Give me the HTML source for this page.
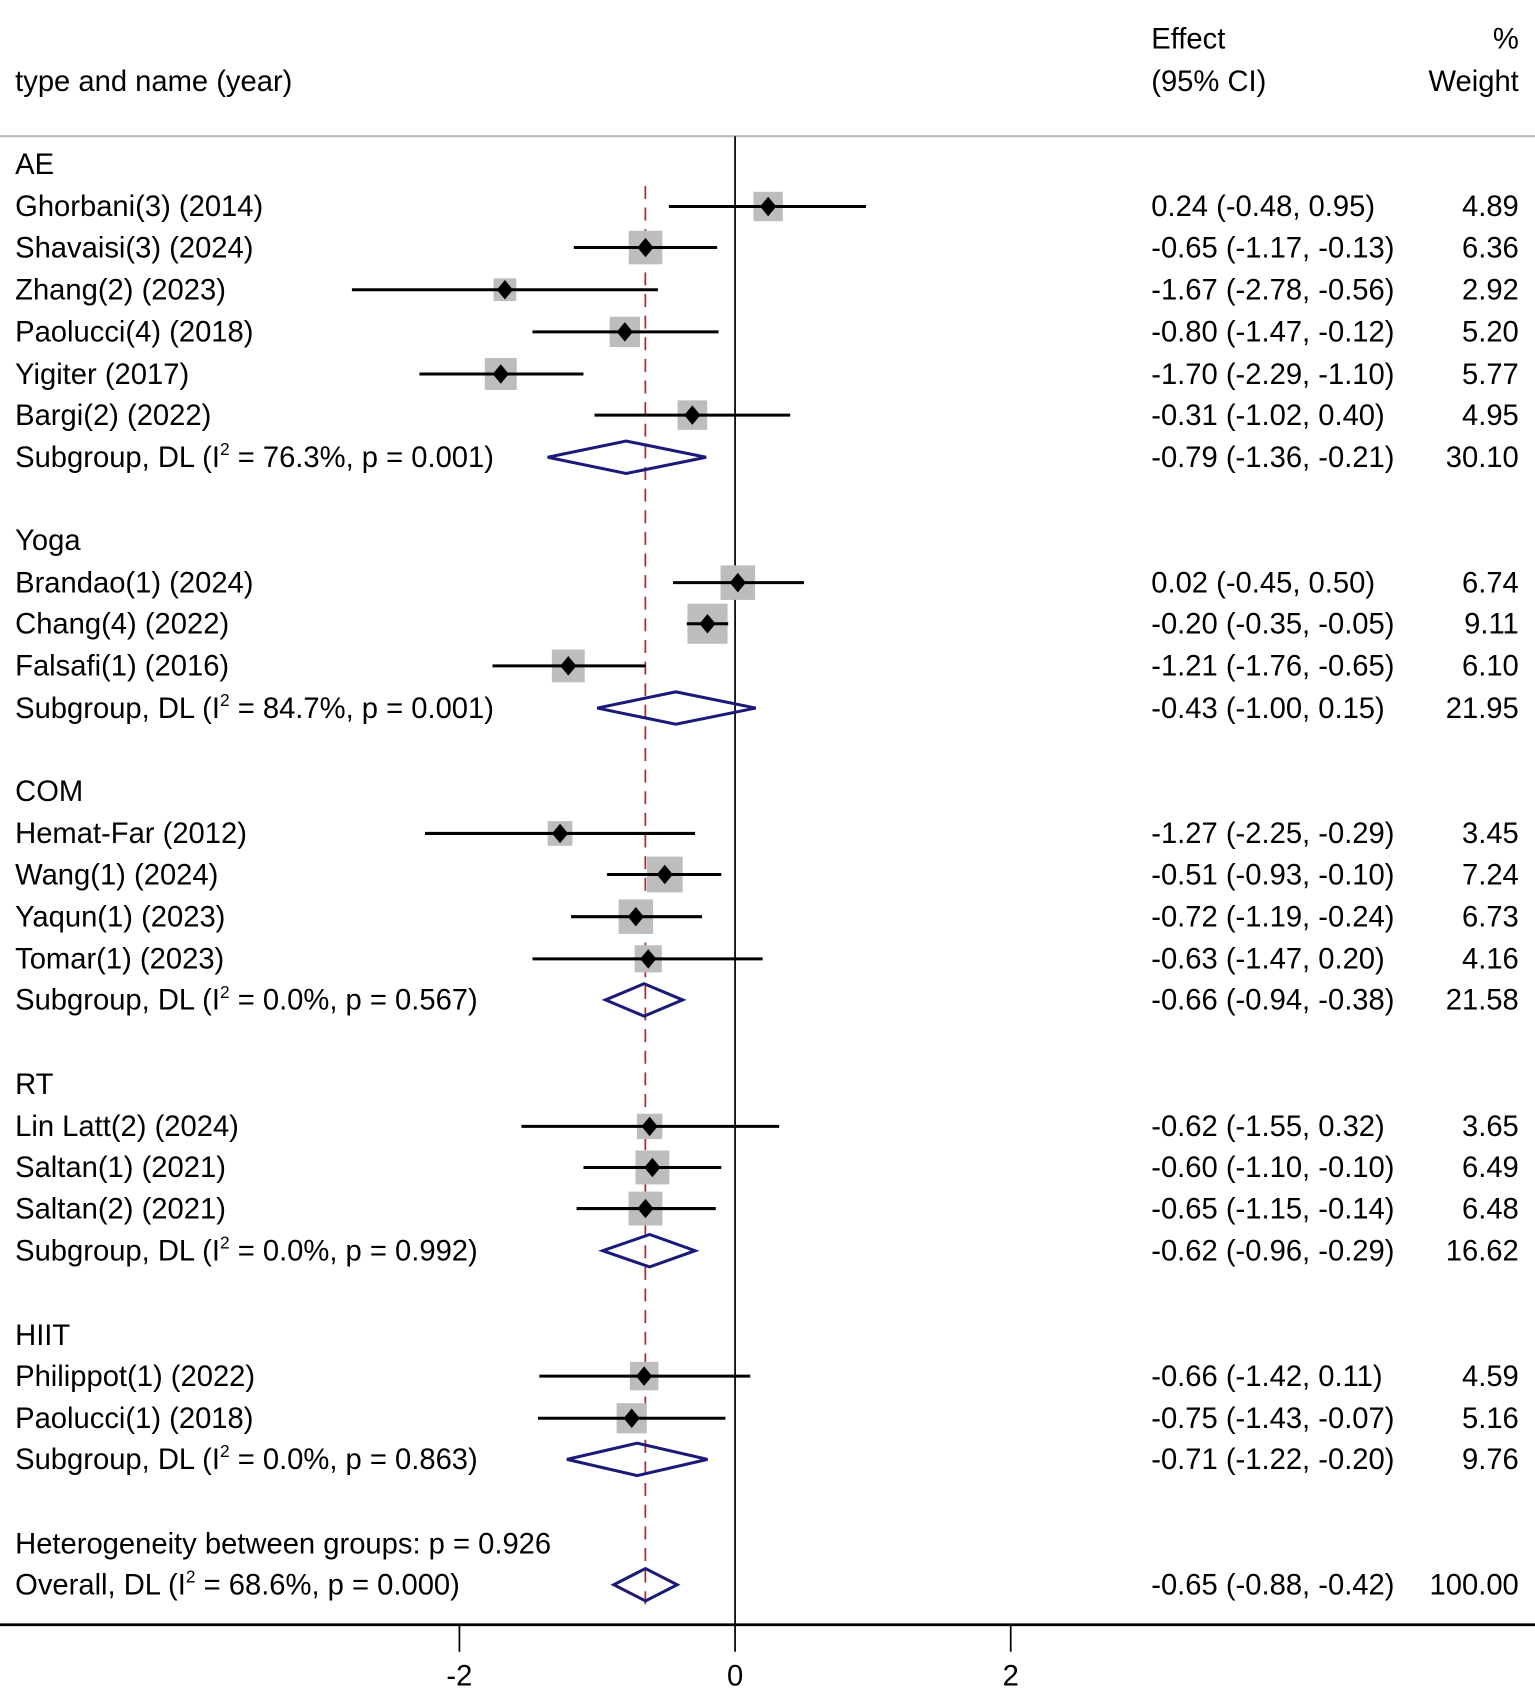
<!DOCTYPE html>
<html><head><meta charset="utf-8"><style>
html,body{margin:0;padding:0;background:#fff;}
svg{display:block;}
text{font-family:"Liberation Sans",Arial,sans-serif;font-size:27px;fill:#000;}
</style></head><body>
<svg id="s" width="1535" height="1695" viewBox="0 0 1420 1568" preserveAspectRatio="none" xmlns="http://www.w3.org/2000/svg">
<text x="1065" y="45">Effect</text>
<text x="1405" y="45" text-anchor="end">%</text>
<text x="14" y="84">type and name (year)</text>
<text x="1065" y="84">(95% CI)</text>
<text x="1405" y="84" text-anchor="end">Weight</text>
<line x1="0" y1="126" x2="1420" y2="126" stroke="#bbb" stroke-width="2"/>
<line x1="680" y1="126" x2="680" y2="1503" stroke="#000" stroke-width="1.6"/>
<line x1="597" y1="172" x2="597" y2="1485" stroke="#a03030" stroke-width="1.6" stroke-dasharray="12,8"/>
<line x1="0" y1="1503" x2="1420" y2="1503" stroke="#000" stroke-width="2.5"/>
<line x1="425" y1="1503" x2="425" y2="1528" stroke="#000" stroke-width="1.6"/>
<line x1="680" y1="1503" x2="680" y2="1528" stroke="#000" stroke-width="1.6"/>
<line x1="935" y1="1503" x2="935" y2="1528" stroke="#000" stroke-width="1.6"/>
<text x="425" y="1559" text-anchor="middle">-2</text>
<text x="680" y="1559" text-anchor="middle">0</text>
<text x="935" y="1559" text-anchor="middle">2</text>
<g id="g"></g>
</svg>
<script>
var X=function(v){return 680+127.5*v;};
var rows=[
["h",152,"AE"],
["s",191,"Ghorbani(3) (2014)",0.24,-0.48,0.95,4.89],
["s",229,"Shavaisi(3) (2024)",-0.65,-1.17,-0.13,6.36],
["s",268,"Zhang(2) (2023)",-1.67,-2.78,-0.56,2.92],
["s",307,"Paolucci(4) (2018)",-0.80,-1.47,-0.12,5.20],
["s",346,"Yigiter (2017)",-1.70,-2.29,-1.10,5.77],
["s",384,"Bargi(2) (2022)",-0.31,-1.02,0.40,4.95],
["d",423,"76.3%, p = 0.001)",-0.79,-1.36,-0.21,30.10],
["h",500,"Yoga"],
["s",539,"Brandao(1) (2024)",0.02,-0.45,0.50,6.74],
["s",577,"Chang(4) (2022)",-0.20,-0.35,-0.05,9.11],
["s",616,"Falsafi(1) (2016)",-1.21,-1.76,-0.65,6.10],
["d",655,"84.7%, p = 0.001)",-0.43,-1.00,0.15,21.95],
["h",732,"COM"],
["s",771,"Hemat-Far (2012)",-1.27,-2.25,-0.29,3.45],
["s",809,"Wang(1) (2024)",-0.51,-0.93,-0.10,7.24],
["s",848,"Yaqun(1) (2023)",-0.72,-1.19,-0.24,6.73],
["s",887,"Tomar(1) (2023)",-0.63,-1.47,0.20,4.16],
["d",925,"0.0%, p = 0.567)",-0.66,-0.94,-0.38,21.58],
["h",1003,"RT"],
["s",1042,"Lin Latt(2) (2024)",-0.62,-1.55,0.32,3.65],
["s",1080,"Saltan(1) (2021)",-0.60,-1.10,-0.10,6.49],
["s",1118,"Saltan(2) (2021)",-0.65,-1.15,-0.14,6.48],
["d",1157,"0.0%, p = 0.992)",-0.62,-0.96,-0.29,16.62],
["h",1235,"HIIT"],
["s",1273,"Philippot(1) (2022)",-0.66,-1.42,0.11,4.59],
["s",1312,"Paolucci(1) (2018)",-0.75,-1.43,-0.07,5.16],
["d",1350,"0.0%, p = 0.863)",-0.71,-1.22,-0.20,9.76],
["h",1428,"Heterogeneity between groups: p = 0.926"],
["o",1466,"68.6%, p = 0.000)",-0.65,-0.88,-0.42,100.00]
];
var f=function(v){var s=Math.abs(v).toFixed(2);return (v<0?"-":"")+s;};
var h="";
rows.forEach(function(r){
 var y=r[1],ty=y+9;
 if(r[0]=="h"){h+='<text x="14" y="'+ty+'">'+r[2]+'</text>';return;}
 var e=r[3],lo=r[4],hi=r[5],w=r[6];
 if(r[0]=="s"){
  h+='<text x="14" y="'+ty+'">'+r[2]+'</text>';
  var s=12.3*Math.sqrt(w);
  h+='<rect x="'+(X(e)-s/2)+'" y="'+(y-s/2)+'" width="'+s+'" height="'+s+'" fill="#bdbdbd"/>';
  h+='<line x1="'+X(lo)+'" y1="'+y+'" x2="'+X(hi)+'" y2="'+y+'" stroke="#000" stroke-width="2.8"/>';
  var c=X(e);
  h+='<polygon points="'+(c-7.5)+','+y+' '+c+','+(y-9)+' '+(c+7.5)+','+y+' '+c+','+(y+9)+'" fill="#000"/>';
 } else {
  var lab=(r[0]=="o"?"Overall, DL (I":"Subgroup, DL (I")+'<tspan dy="-11" font-size="16">2</tspan><tspan dy="11"> = '+r[2]+'</tspan>';
  h+='<text x="14" y="'+ty+'">'+lab+'</text>';
  h+='<polygon points="'+X(lo)+','+y+' '+X(e)+','+(y-15)+' '+X(hi)+','+y+' '+X(e)+','+(y+15)+'" fill="none" stroke="#1a1a7a" stroke-width="2.8"/>';
 }
 h+='<text x="1065" y="'+ty+'">'+f(e)+' ('+f(lo)+', '+f(hi)+')</text>';
 h+='<text x="1405" y="'+ty+'" text-anchor="end">'+w.toFixed(2)+'</text>';
});
document.getElementById("g").innerHTML=h;
</script>
</body></html>
